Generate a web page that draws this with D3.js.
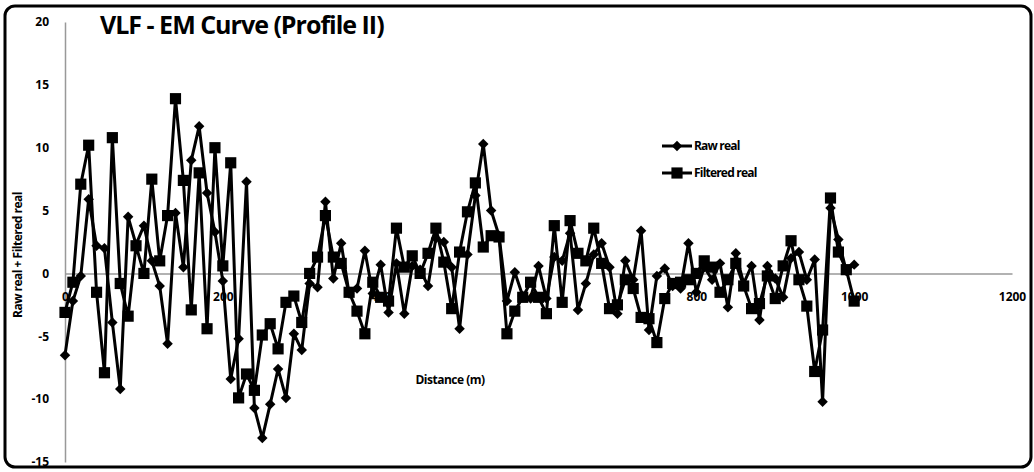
<!DOCTYPE html>
<html>
<head>
<meta charset="utf-8">
<script src="https://cdn.jsdelivr.net/npm/d3@7"></script>
<style>
  body { margin: 0; background: #fff; }
  text { font-family: "Open Sans", "Noto Sans", sans-serif; font-weight: 700; fill: #000; }
</style>
</head>
<body>
<div id="chart"></div>
<script>
// distance step is 10 m, 0..1000
const distances = d3.range(0, 1001, 10);

const rawReal = [
  -6.5, -2.2, -0.2, 5.9, 2.2, 2.0, -3.9, -9.2, 4.5, 2.3,
  3.8, 1.0, -1.0, -5.6, 4.8, 0.5, 9.0, 11.7, 6.4, 3.3,
  -0.6, -8.4, -5.2, 7.3, -10.7, -13.1, -10.4, -7.6, -9.9, -4.8,
  -6.1, -0.8, -1.1, 5.7, -0.4, 2.4, -1.6, -1.2, 1.8, -1.6,
  0.7, -3.1, 0.8, -3.2, 0.6, 0.3, -1.0, 2.8, 2.5, 0.5,
  -4.4, 1.5, 6.2, 10.3, 5.0, 3.0, -2.2, 0.1, -1.8, -2.0,
  0.6, -2.0, 1.3, 1.0, 3.2, -2.9, -0.8, 1.5, 2.4, 0.5,
  -3.2, 1.0, -0.5, 3.4, -4.5, -0.2, 0.4, -1.0, -1.2, 2.4,
  -1.5, 0.5, -0.5, 0.8, -2.7, 1.6, -0.8, 0.6, -3.7, 0.6,
  -0.4, -1.9, 1.2, 1.7, -0.5, 1.1, -10.2, 5.2, 2.7, 0.2,
  0.7
];

const filteredReal = [
  -3.1, -0.7, 7.1, 10.2, -1.5, -7.9, 10.8, -0.8, -3.4, 2.2,
  0.0, 7.5, 1.0, 4.6, 13.9, 7.4, -2.9, 8.0, -4.4, 10.0,
  0.6, 8.8, -9.9, -8.0, -9.3, -4.9, -4.0, -6.0, -2.3, -1.8,
  -3.9, 0.0, 1.3, 4.6, 1.3, 0.8, -1.5, -3.0, -4.8, -0.7,
  -1.9, -2.2, 3.6, 0.5, 1.4, 0.0, 1.6, 3.6, 0.9, -2.8,
  1.7, 4.9, 7.2, 2.1, 3.0, 2.9, -4.8, -3.0, -1.9, -0.7,
  -1.9, -3.2, 3.8, -2.3, 4.2, 1.6, 1.0, 3.6, 0.8, -2.8,
  -2.5, -0.5, -1.2, -3.5, -3.6, -5.5, -2.0, -0.8, -0.7, -0.5,
  0.0, 1.0, 0.5, -1.5, -0.5, 0.8, -1.0, -2.8, -2.4, -0.2,
  -2.0, 0.6, 2.6, -0.5, -2.6, -7.8, -4.5, 6.0, 1.7, 0.3,
  -2.2
];

const xTicks = [0, 200, 400, 600, 800, 1000, 1200];
const yTicks = [-15, -10, -5, 0, 5, 10, 15, 20];

const series = [
  { name: 'Raw real', values: rawReal, symbol: d3.symbolDiamond2, size: 70 },
  { name: 'Filtered real', values: filteredReal, symbol: d3.symbolSquare, size: 125 },
];

const width = 1034;
const height = 472;

const svg = d3.select('#chart')
  .append('svg')
  .attr('width', width)
  .attr('height', height);

// rounded frame
svg.append('rect')
  .attr('x', 5).attr('y', 6)
  .attr('width', 1026).attr('height', 461)
  .attr('rx', 10)
  .attr('fill', '#fff')
  .attr('stroke', '#000')
  .attr('stroke-width', 3);

const xScale = d3.scaleLinear().domain([0, 1200]).range([65, 1012]);
const yScale = d3.scaleLinear().domain([-15, 20]).range([462, 22]);

// y axis
const yAxis = svg.append('g')
  .attr('transform', `translate(${xScale(0)},0)`)
  .call(d3.axisLeft(yScale).tickValues(yTicks).tickSize(0).tickPadding(16))
  .call((g) => g.select('.domain').attr('stroke', '#999').attr('stroke-width', 1.5));
yAxis.selectAll('.tick text')
  .style('font-size', '12px')
  .style('font-family', '"Open Sans", sans-serif')
  .style('font-weight', 700)
  .text((d) => d);

// x axis through zero
const xAxis = svg.append('g')
  .attr('transform', `translate(0,${yScale(0)})`)
  .call(d3.axisBottom(xScale).tickValues(xTicks).tickFormat(d3.format('d')).tickSize(0).tickPadding(19))
  .call((g) => g.select('.domain').attr('stroke', '#999').attr('stroke-width', 1.5));
xAxis.selectAll('.tick text')
  .style('font-size', '12px')
  .style('font-family', '"Open Sans", sans-serif')
  .style('font-weight', 700);

// lines and markers
const line = d3.line()
  .x((d, i) => xScale(distances[i]))
  .y((d) => yScale(d));

series.forEach((s) => {
  svg.append('path')
    .datum(s.values)
    .attr('fill', 'none')
    .attr('stroke', '#000')
    .attr('stroke-width', 3)
    .attr('stroke-linejoin', 'round')
    .attr('d', line);
});

series.forEach((s) => {
  svg.append('g')
    .selectAll('path')
    .data(s.values)
    .enter()
    .append('path')
    .attr('d', d3.symbol().type(s.symbol).size(s.size))
    .attr('transform', (d, i) => `translate(${xScale(distances[i])},${yScale(d)})`)
    .attr('fill', '#000');
});

// title
svg.append('text')
  .attr('x', 100)
  .attr('y', 34)
  .style('font-size', '25px')
  .style('letter-spacing', '-1px')
  .text('VLF - EM Curve (Profile II)');

// axis titles
svg.append('text')
  .attr('x', 450)
  .attr('y', 384)
  .attr('text-anchor', 'middle')
  .style('font-size', '12px')
  .style('letter-spacing', '-0.5px')
  .text('Distance  (m)');

svg.append('text')
  .attr('transform', 'translate(22,255) rotate(-90)')
  .attr('text-anchor', 'middle')
  .style('font-size', '12px')
  .style('letter-spacing', '-0.5px')
  .text('Raw real + Filtered real');

// legend
const legend = svg.append('g').attr('transform', 'translate(662,146)');
series.forEach((s, i) => {
  const g = legend.append('g').attr('transform', `translate(0,${i * 27})`);
  g.append('line')
    .attr('x1', 0).attr('x2', 30)
    .attr('stroke', '#000').attr('stroke-width', 3);
  g.append('path')
    .attr('d', d3.symbol().type(s.symbol).size(s.size))
    .attr('transform', 'translate(15,0)')
    .attr('fill', '#000');
  g.append('text')
    .attr('x', 32)
    .attr('dy', '0.35em')
    .style('font-size', '12px')
    .style('letter-spacing', '-0.8px')
    .text(s.name);
});
</script>
</body>
</html>
